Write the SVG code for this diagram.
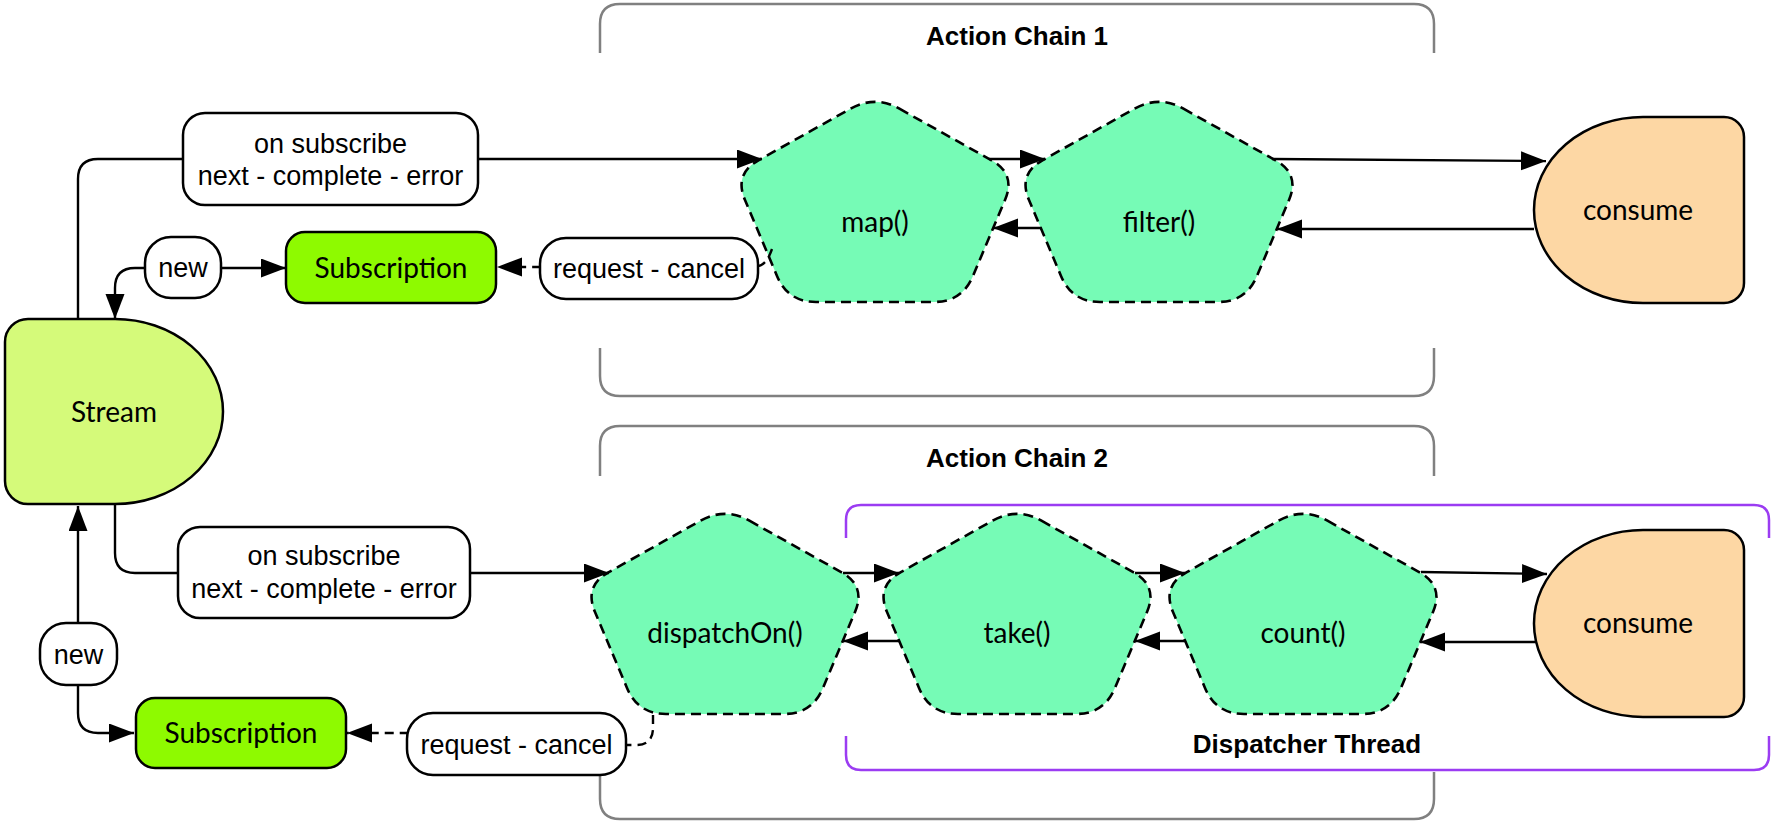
<svg xmlns="http://www.w3.org/2000/svg" xmlns:xlink="http://www.w3.org/1999/xlink" width="1775" height="825" viewBox="0 0 1775 825">
<style>
.node{stroke:#000;stroke-width:2.5}
.pent{fill:#76fbb6;stroke:#000;stroke-width:2.6;stroke-dasharray:10 6}
.ntxt{font-family:Lato,"Noto Sans",sans-serif;font-size:28px;fill:#000;text-anchor:middle}
.lbl{fill:#fff;stroke:#000;stroke-width:2.5}
.ltxt{font-family:"Liberation Sans",Arial,sans-serif;font-size:27px;fill:#000;text-anchor:middle}
.conn{fill:none;stroke:#000;stroke-width:2.4;marker-end:url(#arr)}
.dash{stroke-dasharray:9 6}
.both{marker-start:url(#arr)}
.brk{fill:none;stroke:#808080;stroke-width:2.5}
.pbrk{fill:none;stroke:#9b3cf2;stroke-width:2.5}
.btxt{font-family:"Liberation Sans",Arial,sans-serif;font-size:26px;font-weight:bold;fill:#000;text-anchor:middle}
</style>
<defs>
<marker id="arr" markerUnits="userSpaceOnUse" markerWidth="26" markerHeight="20" refX="25" refY="9.5" orient="auto-start-reverse">
<path d="M0,0 L25,9.5 L0,19 Z" fill="#000"/>
</marker>
<path id="pentShape" d="M165.43,13.69 L257.57,65.31 Q282,79 271.11,104.8 L238.89,181.2 Q228,207 200,207 L82,207 Q54,207 43.11,181.2 L10.89,104.8 Q0,79 24.43,65.31 L116.57,13.69 Q141,0 165.43,13.69 Z"/>
</defs>

<g id="brackets">
<path class="brk" d="M600,53 V24 Q600,4 620,4 H1414 Q1434,4 1434,24 V53"/>
<path class="brk" d="M600,348 V376 Q600,396 620,396 H1414 Q1434,396 1434,376 V348"/>
<text class="btxt" x="1017" y="45">Action Chain 1</text>
<path class="brk" d="M600,476 V446 Q600,426 620,426 H1414 Q1434,426 1434,446 V476"/>
<path class="brk" d="M600,772 V799 Q600,819 620,819 H1414 Q1434,819 1434,799 V772"/>
<text class="btxt" x="1017" y="467">Action Chain 2</text>
<path class="pbrk" d="M846,538 V520 Q846,505 861,505 H1754 Q1769,505 1769,520 V538"/>
<path class="pbrk" d="M846,736 V755 Q846,770 861,770 H1754 Q1769,770 1769,755 V736"/>
<text class="btxt" x="1307" y="753">Dispatcher Thread</text>
</g>

<g id="stream">
<path class="node" fill="#d5fa7a" d="M28,319 H115 A108,92.5 0 0 1 115,504 H28 A23,23 0 0 1 5,481 V342 A23,23 0 0 1 28,319 Z"/>
<text class="ntxt" x="114" y="422">Stream</text>
</g>
<g id="subscription1">
<rect class="node" fill="#8efa00" x="286" y="232" width="210" height="71" rx="19"/>
<text class="ntxt" x="391" y="278">Subscription</text>
</g>
<g id="subscription2">
<rect class="node" fill="#8efa00" x="136" y="698" width="210" height="70" rx="19"/>
<text class="ntxt" x="241" y="743">Subscription</text>
</g>
<g id="map">
<use xlink:href="#pentShape" class="pent" x="734" y="95"/>
<text class="ntxt" x="875" y="232">map()</text>
</g>
<g id="filter">
<use xlink:href="#pentShape" class="pent" x="1018" y="95"/>
<text class="ntxt" x="1159" y="232">filter()</text>
</g>
<g id="consume1">
<path class="node" fill="#fdd7a4" d="M1724,117 A20,20 0 0 1 1744,137 V283 A20,20 0 0 1 1724,303 H1643 A109,93 0 0 1 1643,117 Z"/>
<text class="ntxt" x="1638" y="220">consume</text>
</g>
<g id="dispatchOn">
<use xlink:href="#pentShape" class="pent" x="584" y="507"/>
<text class="ntxt" x="725" y="643">dispatchOn()</text>
</g>
<g id="take">
<use xlink:href="#pentShape" class="pent" x="876" y="507"/>
<text class="ntxt" x="1017" y="643">take()</text>
</g>
<g id="count">
<use xlink:href="#pentShape" class="pent" x="1162" y="507"/>
<text class="ntxt" x="1303" y="643">count()</text>
</g>
<g id="consume2">
<path class="node" fill="#fdd7a4" d="M1724,530 A20,20 0 0 1 1744,550 V697 A20,20 0 0 1 1724,717 H1643 A109,93.5 0 0 1 1643,530 Z"/>
<text class="ntxt" x="1638" y="633">consume</text>
</g>

<g id="connectors">
<path class="conn" d="M78,319 V179 Q78,159 98,159 H762"/>
<path class="conn" d="M989,159 H1045"/>
<path class="conn" d="M1272,159 L1546,161"/>
<path class="conn" d="M1534,229 H1277"/>
<path class="conn" d="M1041,228 H993"/>
<path class="conn dash" d="M772,249 C768,260 764,267 752,267 H497"/>
<path class="conn both" d="M286,268 H135 Q115,268 115,288 V319"/>
<path class="conn" d="M115,504 V553 Q115,573 135,573 H609"/>
<path class="conn" d="M843,573 H899"/>
<path class="conn" d="M1135,573 H1185"/>
<path class="conn" d="M1421,572 L1547,574"/>
<path class="conn" d="M1536,642 H1420"/>
<path class="conn" d="M1185,641 H1135"/>
<path class="conn" d="M899,641 H843"/>
<path class="conn dash" d="M653,715 V728 Q653,745 636,745 H470 L440,733 H347"/>
<path class="conn both" d="M134,733 H98 Q78,733 78,713 V506"/>
</g>

<g id="label-onsubscribe1">
<rect class="lbl" x="183" y="113" width="295" height="92" rx="22"/>
<text class="ltxt" x="330.5" y="153">on subscribe</text>
<text class="ltxt" x="330.5" y="185">next - complete - error</text>
</g>
<g id="label-new1">
<rect class="lbl" x="145" y="237" width="76" height="61" rx="26"/>
<text class="ltxt" x="183" y="277">new</text>
</g>
<g id="label-request1">
<rect class="lbl" x="540" y="238" width="218" height="61" rx="26"/>
<text class="ltxt" x="649" y="278">request - cancel</text>
</g>
<g id="label-onsubscribe2">
<rect class="lbl" x="178" y="527" width="292" height="91" rx="22"/>
<text class="ltxt" x="324" y="565">on subscribe</text>
<text class="ltxt" x="324" y="598">next - complete - error</text>
</g>
<g id="label-new2">
<rect class="lbl" x="40" y="623" width="77" height="62" rx="26"/>
<text class="ltxt" x="78.5" y="664">new</text>
</g>
<g id="label-request2">
<rect class="lbl" x="407" y="713" width="219" height="62" rx="26"/>
<text class="ltxt" x="516.5" y="754">request - cancel</text>
</g>
</svg>
